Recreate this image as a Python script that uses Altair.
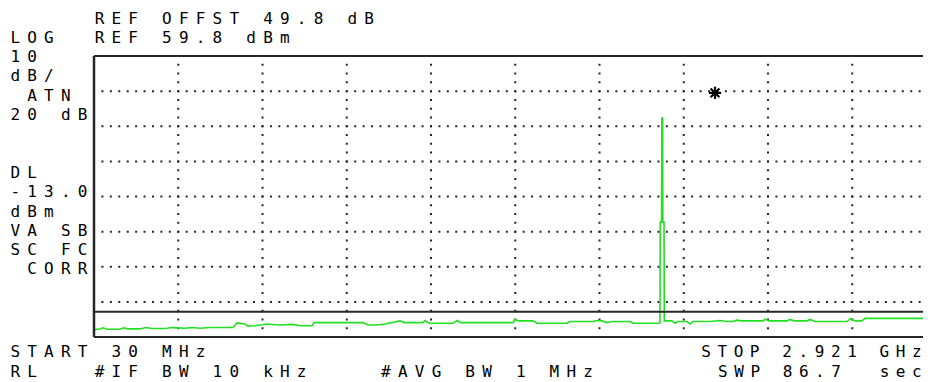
import altair as alt
import pandas as pd

# ---------------- instrument settings ----------------
REF_LEVEL_DBM = 59.8
DB_PER_DIV = 10
N_YDIV = 8                 # divisions visible on screen
START_MHZ = 30
STOP_MHZ = 2921
N_XDIV = 10
DISPLAY_LINE_DBM = -13.0
MARKER_MHZ = 2161
MARKER_DBM = 49.3

# ---------------- trace (frequency in MHz, level in dBm) ----------------
TRACE_MHZ = [30, 51, 61, 75, 119, 133, 147, 188, 208, 229, 277, 294, 315, 342, 366,
             394, 428, 507, 521, 548, 558, 582, 624, 668, 713, 737, 778, 785, 874,
             953, 970, 1001, 1029, 1080, 1094, 1159, 1166, 1180, 1262, 1276, 1289,
             1468, 1475, 1485, 1536, 1550, 1653, 1663, 1742, 1756, 1773, 1790, 1808,
             1869, 1880, 1965, 1972, 1973, 1977.5, 1978.5, 1981, 1982, 1986, 1987,
             1990, 2013, 2024, 2034, 2065, 2075, 2085, 2144, 2178, 2202, 2223, 2236,
             2250, 2326, 2333, 2346, 2408, 2418, 2432, 2477, 2487, 2504, 2614, 2627,
             2641, 2665, 2676, 2796, 2885, 2892, 2902]
TRACE_DBM = [-18.1, -17.9, -17.6, -18.0, -18.0, -17.6, -17.9, -17.9, -17.5, -17.8,
             -17.8, -17.5, -17.6, -17.7, -17.5, -17.7, -17.5, -17.5, -16.2, -16.5,
             -17.1, -17.0, -16.5, -16.8, -16.6, -17.0, -17.0, -16.1, -16.1, -16.1,
             -16.8, -16.8, -16.5, -15.6, -16.1, -16.1, -15.5, -16.3, -16.3, -15.5,
             -16.1, -16.1, -15.2, -15.6, -15.6, -16.3, -16.3, -15.8, -15.8, -15.5,
             -15.6, -16.1, -15.8, -15.8, -16.3, -16.3, -16.2, 12.5, 12.5, 42.1,
             42.1, 12.5, 12.5, -15.6, -15.6, -15.6, -16.3, -15.8, -15.8, -16.5,
             -15.8, -15.8, -15.5, -15.8, -15.8, -15.4, -15.6, -15.6, -15.1, -15.6,
             -15.6, -15.2, -15.6, -15.6, -15.2, -15.8, -15.8, -14.9, -15.6, -15.6,
             -14.9, -14.9, -14.9, -14.5, -14.7]

# ---------------- screen annotations ----------------
HEADER_1 = "REF OFFST 49.8 dB"
HEADER_2 = "REF 59.8 dBm"
LEFT_LABELS = ["LOG", "10", "dB/", " ATN", "20 dB", "", "", "DL", "-13.0",
               "dBm", "VA SB", "SC FC", " CORR"]
FOOT_1_LEFT = "START 30 MHz"
FOOT_1_RIGHT = "STOP 2.921 GHz"
FOOT_2_LEFT = "RL   #IF BW 10 kHz"
FOOT_2_MID = "#AVG BW 1 MHz"
FOOT_2_RIGHT = "SWP 86.7  sec"

# ---------------- layout (pixels) ----------------
PAGE = 8
PLOT_LEFT, PLOT_TOP = 94, 56
DIV_W, DIV_H = 84.25, 35.125
SVG_RIGHT = 931 - PAGE                    # keep page free of horizontal overflow
VIEW_W = SVG_RIGHT - PLOT_LEFT
VIEW_H = N_YDIV * DIV_H
X_MAX = START_MHZ + (STOP_MHZ - START_MHZ) * VIEW_W / (N_XDIV * DIV_W)
Y_MIN = REF_LEVEL_DBM - N_YDIV * DB_PER_DIV

COL0, COL_PITCH = 10, 16.85
GLYPH_HALF = 5.2
ROW0, ROW_PITCH = 17.8, 19.3
FOOT_ROWS = [351.5, 371.5]
FONT_SIZE = 16
TEXT_COLOR = "#000000"
LINE_COLOR = "#262626"
TRACE_COLOR = "#22e022"

placements = [(ROW0, 5, HEADER_1), (ROW0 + ROW_PITCH, 5, HEADER_2)]
for i, s in enumerate(LEFT_LABELS):
    placements.append((ROW0 + ROW_PITCH * (i + 1), 0, s))
placements += [(FOOT_ROWS[0], 0, FOOT_1_LEFT), (FOOT_ROWS[0], 41, FOOT_1_RIGHT),
               (FOOT_ROWS[1], 0, FOOT_2_LEFT), (FOOT_ROWS[1], 22, FOOT_2_MID),
               (FOOT_ROWS[1], 42, FOOT_2_RIGHT)]

chars = []
for cy, col, s in placements:
    x0 = COL0 + col * COL_PITCH + GLYPH_HALF
    pitch = COL_PITCH
    last_center = x0 + (len(s) - 1) * pitch
    limit = SVG_RIGHT - GLYPH_HALF - 1
    if len(s) > 1 and last_center > limit:
        pitch = (limit - x0) / (len(s) - 1)
    for j, ch in enumerate(s):
        if ch == " ":
            continue
        chars.append({"ch": ch,
                      "px": x0 + j * pitch - PLOT_LEFT,
                      "py": cy + 0.36 * FONT_SIZE - PLOT_TOP})
chars_df = pd.DataFrame(chars)

trace_df = pd.DataFrame({"freq": TRACE_MHZ, "level": TRACE_DBM})
vgrid_df = pd.DataFrame({"freq": [START_MHZ + k * (STOP_MHZ - START_MHZ) / N_XDIV
                                  for k in range(1, N_XDIV)]})
hgrid_df = pd.DataFrame({"level": [REF_LEVEL_DBM - k * DB_PER_DIV
                                   for k in range(1, N_YDIV)]})

xs = alt.Scale(domain=[START_MHZ, X_MAX], nice=False, zero=False)
ys = alt.Scale(domain=[Y_MIN, REF_LEVEL_DBM], nice=False, zero=False)

hgrid = alt.Chart(hgrid_df).mark_rule(
    color=LINE_COLOR, strokeWidth=2, strokeDash=[2, DIV_W / 10 - 2], strokeDashOffset=1
).encode(y=alt.Y("level:Q", scale=ys, axis=None), x=alt.value(0), x2=alt.value(VIEW_W))

vgrid = alt.Chart(vgrid_df).mark_rule(
    color=LINE_COLOR, strokeWidth=2, strokeDash=[2, DIV_H / 4 - 2], strokeDashOffset=1
).encode(x=alt.X("freq:Q", scale=xs, axis=None), y=alt.value(0), y2=alt.value(VIEW_H))

trace = alt.Chart(trace_df).mark_line(
    color=TRACE_COLOR, strokeWidth=1.6, clip=True
).encode(x=alt.X("freq:Q", scale=xs, axis=None),
         y=alt.Y("level:Q", scale=ys, axis=None))

dl_line = alt.Chart(pd.DataFrame({"level": [DISPLAY_LINE_DBM]})).mark_rule(
    color=LINE_COLOR, strokeWidth=2
).encode(y=alt.Y("level:Q", scale=ys, axis=None), x=alt.value(0), x2=alt.value(VIEW_W))

border_h = alt.Chart(pd.DataFrame({"level": [REF_LEVEL_DBM, Y_MIN]})).mark_rule(
    color=LINE_COLOR, strokeWidth=2
).encode(y=alt.Y("level:Q", scale=ys, axis=None), x=alt.value(0), x2=alt.value(VIEW_W))

border_v = alt.Chart(pd.DataFrame({"freq": [START_MHZ]})).mark_rule(
    color=LINE_COLOR, strokeWidth=2.5
).encode(x=alt.X("freq:Q", scale=xs, axis=None), y=alt.value(0), y2=alt.value(VIEW_H))

ASTERISK = "M-1,0L1,0M0,-1L0,1M-0.72,-0.72L0.72,0.72M-0.72,0.72L0.72,-0.72"
marker = alt.Chart(pd.DataFrame({"freq": [MARKER_MHZ], "level": [MARKER_DBM]})).mark_point(
    shape=ASTERISK, filled=False, stroke="#000000", strokeWidth=2.2, size=150, opacity=1
).encode(x=alt.X("freq:Q", scale=xs, axis=None), y=alt.Y("level:Q", scale=ys, axis=None))

text = alt.Chart(chars_df).mark_text(
    font="DejaVu Sans Mono", fontSize=FONT_SIZE, align="center", baseline="alphabetic",
    color=TEXT_COLOR
).encode(x=alt.X("px:Q", scale=None, axis=None),
         y=alt.Y("py:Q", scale=None, axis=None),
         text="ch:N")

plot = alt.layer(hgrid, vgrid, trace, dl_line, border_h, border_v, marker)

chart = alt.layer(plot, text).resolve_scale(x="independent", y="independent").properties(
    width=VIEW_W, height=VIEW_H,
    autosize=alt.AutoSizeParams(type="none"),
    padding={"left": PLOT_LEFT - PAGE, "top": PLOT_TOP - PAGE, "right": 0,
             "bottom": 372 - (PLOT_TOP - PAGE) - VIEW_H},
    background="white",
).configure_view(stroke=None)

chart.save("out.html", embed_options={"renderer": "svg", "actions": False})
